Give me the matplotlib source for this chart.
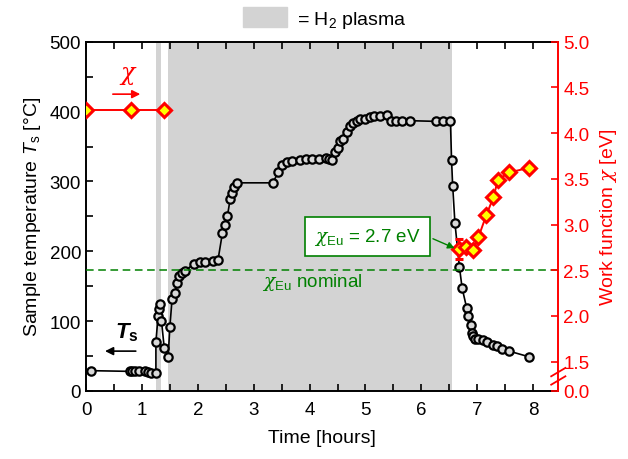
import numpy as np
import matplotlib
matplotlib.use("Agg")
import matplotlib.pyplot as plt
from matplotlib.patches import Patch
from matplotlib.ticker import MultipleLocator

plt.rcParams['font.family'] = ['Liberation Sans', 'DejaVu Sans']
plt.rcParams['mathtext.fontset'] = 'custom'
plt.rcParams['mathtext.rm'] = 'Liberation Sans'
plt.rcParams['mathtext.it'] = 'DejaVu Serif:italic'      # curly chi
plt.rcParams['mathtext.sf'] = 'Liberation Sans:italic'   # italic sans T
plt.rcParams['mathtext.bf'] = 'Liberation Sans:bold'
plt.rcParams['mathtext.bfit'] = 'Liberation Sans:italic:bold'

# sample temperature (hours, °C)
t_temp = [0.09, 0.79, 0.83, 0.88, 0.95, 1.06, 1.11, 1.16, 1.25, 1.25, 1.29, 1.31, 1.33,
          1.35, 1.40, 1.47, 1.50, 1.54, 1.59, 1.63, 1.67, 1.71, 1.77, 1.93, 2.04, 2.13,
          2.28, 2.36, 2.44, 2.49, 2.53, 2.58, 2.61, 2.65, 2.71, 3.34, 3.44, 3.51, 3.60,
          3.69, 3.83, 3.94, 4.04, 4.16, 4.29, 4.35, 4.40, 4.46, 4.50, 4.54, 4.59, 4.67,
          4.73, 4.78, 4.84, 4.90, 4.99, 5.08, 5.15, 5.26, 5.38, 5.46, 5.55, 5.65, 5.80,
          6.27, 6.38, 6.52, 6.54, 6.56, 6.60, 6.68, 6.73, 6.81, 6.83, 6.88, 6.91, 6.93,
          6.96, 7.01, 7.10, 7.18, 7.29, 7.36, 7.44, 7.57, 7.92]
temp = [29, 28, 28, 28, 28, 28, 27, 26, 26, 70, 108, 117, 124,
        100, 61, 49, 92, 132, 140, 155, 165, 169, 172, 182, 184, 184,
        186, 187, 226, 238, 251, 275, 283, 292, 298, 298, 313, 323, 328,
        329, 331, 332, 332, 332, 333, 332, 330, 342, 348, 358, 361, 371,
        380, 384, 387, 389, 390, 392, 393, 393, 395, 387, 386, 386, 387,
        386, 386, 387, 331, 294, 241, 178, 147, 119, 107, 94, 83, 79,
        75, 74, 73, 70, 66, 64, 60, 57, 49]

# work function (hours, eV)
t_wf1 = [0.0, 0.80, 1.40]
wf1 = [4.25, 4.25, 4.25]
t_wf2 = [6.68, 6.80, 6.92, 7.02, 7.16, 7.29, 7.37, 7.57, 7.92]
wf2 = [2.73, 2.75, 2.72, 2.86, 3.10, 3.30, 3.49, 3.57, 3.62]
wf2_err = [0.11, 0, 0, 0, 0, 0, 0, 0, 0]

# H2 plasma intervals (hours)
plasma = [(1.25, 1.34), (1.47, 6.54)]
chi_eu_nominal = 2.5
chi_eu = 2.7

fig = plt.figure(figsize=(6.28, 4.60), dpi=100)
ax = fig.add_axes([0.137, 0.148, 0.752, 0.759])
ax2 = ax.twinx()

for a, b in plasma:
    ax.axvspan(a, b, color='lightgray', lw=0, zorder=0)

ax.plot(t_temp, temp, '-o', color='black', lw=1.2, ms=6, mew=1.6,
        mfc='#d8d8d8', mec='black', zorder=3)

ax.set_xlim(0, 8.45)
ax.set_ylim(0, 500)
ax.xaxis.set_major_locator(MultipleLocator(1))
ax.xaxis.set_minor_locator(MultipleLocator(0.5))
ax.yaxis.set_major_locator(MultipleLocator(100))
ax.yaxis.set_minor_locator(MultipleLocator(50))
ax.tick_params(which='both', direction='in', top=True, right=False, length=5, width=1.2,
               labelsize=13.5)
ax.tick_params(axis='x', pad=7)
for s in ['left', 'bottom', 'top']:
    ax.spines[s].set_linewidth(1.4)
ax.spines['right'].set_visible(False)
ax.set_xlabel('Time [hours]', fontsize=14, labelpad=8)
ax.set_ylabel(r'Sample temperature $\mathsf{T}_\mathrm{s}$ [°C]', fontsize=14, labelpad=5)

# work function on right axis with broken range
ybot = 1.18
ax2.set_ylim(ybot, 5.0)
ax2.axhline(chi_eu_nominal, color='green', ls=(0, (5, 3)), lw=1.1, zorder=1)
ax2.plot(t_wf1, wf1, '-D', color='red', lw=1.4, ms=7, mew=2.2, mfc='yellow', mec='red',
         zorder=4)
ax2.errorbar(t_wf2, wf2, yerr=wf2_err, fmt='-D', color='red', lw=1.4, ms=7, mew=2.2,
             mfc='yellow', mec='red', capsize=3, elinewidth=1.4, zorder=4)
wf_ticks = [ybot] + list(np.arange(1.5, 5.01, 0.5))
ax2.set_yticks(wf_ticks)
ax2.set_yticklabels(['0.0'] + [f'{v:.1f}' for v in wf_ticks[1:]])
ax2.tick_params(axis='y', direction='in', length=5, width=1.2, colors='red', labelsize=13.5)
ax2.spines['right'].set_color('red')
ax2.spines['right'].set_linewidth(1.4)
for s in ['left', 'top', 'bottom']:
    ax2.spines[s].set_visible(False)
ax2.set_ylabel(r'Work function $\chi$ [eV]', color='red', fontsize=14, labelpad=6)

# axis break marks
yb = (1.34 - ybot) / (5.0 - ybot)
for dy in (-0.012, 0.012):
    ax2.plot([0.985, 1.015], [yb + dy - 0.012, yb + dy + 0.012], transform=ax2.transAxes,
             color='red', lw=1.3, clip_on=False, zorder=5)

# annotations
ax2.annotate(r'$\chi_\mathrm{Eu}$ = 2.7 eV', xy=(6.64, chi_eu + 0.03), xytext=(5.03, 2.87),
             fontsize=13.5, color='green', ha='center', va='center',
             bbox=dict(boxstyle='square,pad=0.5', fc='white', ec='green', lw=1.2),
             arrowprops=dict(arrowstyle='-|>', color='green', lw=1, mutation_scale=10,
                             relpos=(1.0, 0.65)), zorder=6)
ax2.text(3.15, 2.38, r'$\chi_\mathrm{Eu}$ nominal', color='green', fontsize=13.5,
         ha='left', va='center')

ax.annotate('', xy=(1.02, 425), xytext=(0.43, 425),
            arrowprops=dict(arrowstyle='-|>', color='red', lw=1.2, mutation_scale=12))
ax.text(0.75, 452, r'$\chi$', color='red', fontsize=17, ha='center', va='center')
ax.annotate('', xy=(0.29, 57), xytext=(0.94, 57),
            arrowprops=dict(arrowstyle='-|>', color='black', lw=1.2, mutation_scale=12))
ax.text(0.74, 85, r'$\mathbfit{T}_\mathbf{s}$', color='black', fontsize=16,
        ha='center', va='center')

fig.legend(handles=[Patch(color='lightgray')], labels=['= H$_2$ plasma'],
           loc='upper center', bbox_to_anchor=(0.517, 1.02), frameon=False, fontsize=14,
           handlelength=2.3, handleheight=1.2, handletextpad=0.5)

fig.savefig('out.png', dpi=100)
